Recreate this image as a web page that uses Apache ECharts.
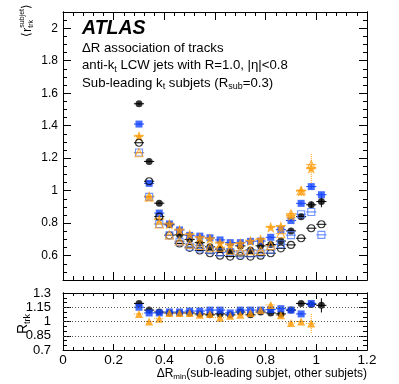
<!DOCTYPE html>
<html>
<head>
<meta charset="utf-8">
<script src="https://cdn.jsdelivr.net/npm/echarts@6/dist/echarts.min.js"></script>
<style>
  html, body { margin: 0; padding: 0; background: #fff; }
  #chart { width: 399px; height: 384px; }
</style>
</head>
<body>
<div id="chart"></div>
<script>
// bin centres of dR_min
const xBins = [0.30, 0.34, 0.38, 0.42, 0.46, 0.50, 0.54, 0.58, 0.62, 0.66, 0.70, 0.74, 0.78, 0.82, 0.86, 0.90, 0.94, 0.98, 1.02]

// <r_trk^subjet> (filled) and track-only version (open)
const dataFilled = [1.535, 1.18, 0.923, 0.79, 0.728, 0.70, 0.68, 0.655, 0.64, 0.628, 0.66, 0.635, 0.66, 0.668, 0.69, 0.752, 0.84, 0.913, 0.933]
const dataOpen = [1.295, 1.058, 0.84, 0.725, 0.675, 0.648, 0.632, 0.615, 0.60, 0.594, 0.598, 0.594, 0.60, 0.615, 0.645, 0.666, 0.707, 0.769, 0.793]
const blueFilled = [1.41, 1.045, 0.862, 0.795, 0.758, 0.725, 0.72, 0.71, 0.697, 0.68, 0.68, 0.688, 0.69, 0.713, 0.76, 0.816, 0.922, 1.025, 0.975]
const blueOpen = [1.235, 0.962, 0.795, 0.725, 0.685, 0.655, 0.645, 0.633, 0.62, 0.622, 0.607, 0.615, 0.615, 0.636, 0.67, 0.726, 0.855, 0.869, 0.728]
const orangeFilled = [1.335, 0.962, 0.822, 0.795, 0.758, 0.73, 0.712, 0.705, 0.678, 0.668, 0.675, 0.69, 0.70, 0.775, 0.78, 0.845, 0.998, 1.138, null]
const orangeOpen = [1.233, 0.962, 0.795, 0.728, 0.69, 0.67, 0.662, 0.652, 0.652, 0.633, 0.63, 0.63, 0.63, 0.662, 0.735, 0.858, 1.0, 1.16, null]

// vertical errors
const dataErr = [0.006, 0.005, 0.004, 0.004, 0.004, 0.004, 0.004, 0.004, 0.004, 0.004, 0.004, 0.005, 0.005, 0.006, 0.007, 0.008, 0.012, 0.02, 0.035]
const blueErr = [0.005, 0.004, 0.004, 0.003, 0.003, 0.003, 0.003, 0.003, 0.003, 0.003, 0.003, 0.004, 0.004, 0.005, 0.006, 0.008, 0.01, 0.015, 0.015]
const orangeErr = [0.01, 0.006, 0.006, 0.005, 0.005, 0.005, 0.005, 0.005, 0.005, 0.005, 0.006, 0.007, 0.008, 0.01, 0.012, 0.02, 0.03, 0.09, null]

// R_trk ratio panel
const ratioData = [1.19, 1.12, 1.10, 1.09, 1.09, 1.09, 1.08, 1.07, 1.08, 1.07, 1.10, 1.07, 1.10, 1.09, 1.08, 1.12, 1.19, 1.18, 1.17]
const ratioBlue = [1.15, 1.09, 1.09, 1.10, 1.10, 1.11, 1.11, 1.12, 1.12, 1.09, 1.12, 1.12, 1.12, 1.125, 1.135, 1.12, 1.08, 1.19, null]
const ratioOrange = [1.08, 1.00, 1.03, 1.09, 1.09, 1.09, 1.07, 1.08, 1.04, 1.06, 1.07, 1.09, 1.12, 1.175, 1.065, 0.985, 1.0, 0.98, null]
const ratioDataErr = [0.01, 0.008, 0.006, 0.006, 0.006, 0.006, 0.006, 0.006, 0.006, 0.006, 0.006, 0.007, 0.008, 0.008, 0.01, 0.012, 0.012, 0.02, 0.075]
const ratioBlueErr = [0.006, 0.005, 0.005, 0.005, 0.005, 0.005, 0.005, 0.005, 0.005, 0.005, 0.005, 0.005, 0.006, 0.006, 0.008, 0.01, 0.012, 0.015, null]
const ratioOrangeErr = [0.01, 0.01, 0.01, 0.01, 0.01, 0.01, 0.01, 0.01, 0.01, 0.01, 0.01, 0.012, 0.014, 0.016, 0.018, 0.02, 0.03, 0.1, null]

const BIN_HALF = 0.02

// axes
const xMin = 0, xMax = 1.2, xStep = 0.2
const mainYMin = 0.45, mainYMax = 2.1
const mainYMajor = [0.6, 0.8, 1, 1.2, 1.4, 1.6, 1.8, 2]
const mainYMinor = [0.45, 0.5, 0.55, 0.65, 0.7, 0.75, 0.85, 0.9, 0.95, 1.05, 1.1, 1.15, 1.25, 1.3, 1.35, 1.45, 1.5, 1.55, 1.65, 1.7, 1.75, 1.85, 1.9, 1.95, 2.05, 2.1]
const ratioYMin = 0.7, ratioYMax = 1.3
const ratioYMajor = [0.7, 0.85, 1, 1.15, 1.3]
const ratioYMinor = [0.75, 0.8, 0.9, 0.95, 1.05, 1.1, 1.2, 1.25]
const ratioGuides = [0.85, 1, 1.15]

const FONT = '"Liberation Sans", Arial, Helvetica, sans-serif'
const BLACK = '#000000'
const BLUE = '#1446ff'
const BLUE_OPEN = '#4f7bff'
const ORANGE = '#ff9a00'
const ORANGE_OPEN = '#ffa31f'
const STAR = 'path://M0,-10L2.35,-3.24L9.51,-3.09L3.8,1.24L5.88,8.09L0,4L-5.88,8.09L-3.8,1.24L-9.51,-3.09L-2.35,-3.24Z'

// text with sub/superscripts built from measured pieces
const measureCtx = document.createElement('canvas').getContext('2d')
function measure(seg) {
  measureCtx.font = `${seg.style || 'normal'} ${seg.weight || 'normal'} ${seg.size}px ${FONT}`
  return measureCtx.measureText(seg.t).width
}
function textRun(x, y, segs, opts = {}) {
  let pos = 0
  let prevStart = 0
  const placed = segs.map(s => {
    const w = measure(s)
    let start
    if (s.stack) {
      start = prevStart
      pos = Math.max(pos, start + w)
    } else {
      start = pos
      pos += w
    }
    prevStart = start
    return { s, start }
  })
  const shift = opts.align === 'right' ? -pos : 0
  return {
    type: 'group',
    x: x,
    y: y,
    rotation: opts.rotation || 0,
    silent: true,
    children: placed.map(({ s, start }) => ({
      type: 'text',
      x: start + shift,
      y: s.dy || 0,
      style: {
        text: s.t,
        fontSize: s.size,
        fontFamily: FONT,
        fontWeight: s.weight || 'normal',
        fontStyle: s.style || 'normal',
        fill: '#000',
        align: 'left',
        verticalAlign: 'middle'
      }
    }))
  }
}

function pairs(vals, errs) {
  const out = []
  xBins.forEach((x, i) => {
    if (vals[i] != null) out.push([x, vals[i], errs ? (errs[i] || 0) : 0])
  })
  return out
}

function errorSeries(vals, errs, color, xi, yi, dashed) {
  return {
    type: 'custom',
    xAxisIndex: xi,
    yAxisIndex: yi,
    silent: true,
    clip: false,
    data: pairs(vals, errs),
    renderItem: function (params, api) {
      const x = api.value(0)
      const y = api.value(1)
      const e = api.value(2)
      const a = api.coord([x - BIN_HALF, y])
      const b = api.coord([x + BIN_HALF, y])
      const style = { stroke: color, lineWidth: 1, lineDash: dashed ? [1, 1] : null }
      const children = [{ type: 'line', shape: { x1: a[0], y1: a[1], x2: b[0], y2: b[1] }, style: style }]
      if (e > 0) {
        const lo = api.coord([x, y - e])
        const hi = api.coord([x, y + e])
        children.push({ type: 'line', shape: { x1: lo[0], y1: lo[1], x2: hi[0], y2: hi[1] }, style: style })
      }
      return { type: 'group', children: children }
    }
  }
}

function markerSeries(vals, symbol, size, color, open, xi, yi) {
  return {
    type: 'scatter',
    xAxisIndex: xi,
    yAxisIndex: yi,
    symbol: symbol,
    symbolSize: size,
    silent: true,
    data: pairs(vals).map(d => [d[0], d[1]]),
    itemStyle: open
      ? { color: 'rgba(0,0,0,0)', borderColor: color, borderWidth: 1.1 }
      : { color: color, borderWidth: 0 }
  }
}

function xAxisDef(grid, position, showLabels, major, minor) {
  return {
    type: 'value',
    gridIndex: grid,
    position: position,
    min: xMin,
    max: xMax,
    interval: xStep,
    axisLine: { show: true, onZero: false, lineStyle: { color: '#000', width: 1 } },
    axisTick: { show: true, inside: true, length: major, lineStyle: { color: '#000' } },
    minorTick: { show: true, splitNumber: 5, length: minor, lineStyle: { color: '#000' } },
    axisLabel: {
      show: showLabels,
      margin: 3,
      color: '#000',
      fontSize: 13.5,
      fontFamily: FONT,
      formatter: v => String(Math.round(v * 10) / 10)
    },
    splitLine: { show: false },
    minorSplitLine: { show: false }
  }
}

function yAxisDef(grid, position, min, max, ticks, len, labels, labelSize, labelMargin) {
  return {
    type: 'value',
    gridIndex: grid,
    position: position,
    min: min,
    max: max,
    axisLine: { show: true, onZero: false, lineStyle: { color: '#000', width: 1 } },
    axisTick: { show: true, inside: true, length: len, customValues: ticks, lineStyle: { color: '#000' } },
    axisLabel: labels
      ? { show: true, customValues: ticks, margin: labelMargin, color: '#000', fontSize: labelSize, fontFamily: FONT }
      : { show: false },
    splitLine: { show: false }
  }
}

const chart = echarts.init(document.getElementById('chart'))

const series = [
  // main panel
  errorSeries(dataFilled, dataErr, BLACK, 0, 0),
  markerSeries(dataFilled, 'circle', 7, BLACK, false, 0, 0),
  errorSeries(blueFilled, blueErr, BLUE, 0, 0),
  markerSeries(blueFilled, 'rect', 7, BLUE, false, 0, 0),
  errorSeries(orangeFilled, orangeErr, ORANGE, 0, 0, true),
  markerSeries(orangeFilled, STAR, 11, ORANGE, false, 0, 0),
  errorSeries(dataOpen, null, BLACK, 0, 0),
  markerSeries(dataOpen, 'circle', 7, BLACK, true, 0, 0),
  errorSeries(blueOpen, null, BLUE_OPEN, 0, 0),
  markerSeries(blueOpen, 'rect', 7, BLUE_OPEN, true, 0, 0),
  errorSeries(orangeOpen, null, ORANGE_OPEN, 0, 0),
  markerSeries(orangeOpen, 'triangle', 8, ORANGE_OPEN, true, 0, 0),
  // ratio panel
  errorSeries(ratioData, ratioDataErr, BLACK, 2, 4),
  Object.assign(markerSeries(ratioData, 'circle', 7, BLACK, false, 2, 4), {
    markLine: {
      silent: true,
      symbol: 'none',
      label: { show: false },
      lineStyle: { color: '#555', type: [1, 2], width: 1 },
      data: ratioGuides.map(v => ({ yAxis: v }))
    }
  }),
  errorSeries(ratioBlue, ratioBlueErr, BLUE, 2, 4),
  markerSeries(ratioBlue, 'rect', 7, BLUE, false, 2, 4),
  errorSeries(ratioOrange, ratioOrangeErr, ORANGE, 2, 4, true),
  markerSeries(ratioOrange, 'triangle', 8, ORANGE, false, 2, 4)
]

chart.setOption({
  animation: false,
  backgroundColor: '#fff',
  grid: [
    { left: 63, top: 12, width: 304, height: 268 },
    { left: 63, top: 293, width: 304, height: 57 }
  ],
  xAxis: [
    xAxisDef(0, 'bottom', false, 8, 4),
    xAxisDef(0, 'top', false, 8, 4),
    xAxisDef(1, 'bottom', true, 6, 3),
    xAxisDef(1, 'top', false, 6, 3)
  ],
  yAxis: [
    yAxisDef(0, 'left', mainYMin, mainYMax, mainYMajor, 8, true, 12, 5),
    yAxisDef(0, 'left', mainYMin, mainYMax, mainYMinor, 4, false),
    yAxisDef(0, 'right', mainYMin, mainYMax, mainYMajor, 8, false),
    yAxisDef(0, 'right', mainYMin, mainYMax, mainYMinor, 4, false),
    yAxisDef(1, 'left', ratioYMin, ratioYMax, ratioYMajor, 8, true, 13, 12),
    yAxisDef(1, 'left', ratioYMin, ratioYMax, ratioYMinor, 4, false),
    yAxisDef(1, 'right', ratioYMin, ratioYMax, ratioYMajor, 8, false),
    yAxisDef(1, 'right', ratioYMin, ratioYMax, ratioYMinor, 4, false)
  ],
  graphic: [
    textRun(82, 29, [{ t: 'ATLAS', size: 19.5, weight: 'bold', style: 'italic' }]),
    textRun(82, 48, [{ t: 'ΔR association of tracks', size: 13.2 }]),
    textRun(82, 65.5, [
      { t: 'anti-k', size: 13.2 },
      { t: 't', size: 9, dy: 4 },
      { t: ' LCW jets with R=1.0, |η|<0.8', size: 13.2 }
    ]),
    textRun(82, 83, [
      { t: 'Sub-leading k', size: 13.2 },
      { t: 't', size: 9, dy: 4 },
      { t: ' subjets (R', size: 13.2 },
      { t: 'sub', size: 9, dy: 4 },
      { t: '=0.3)', size: 13.2 }
    ]),
    // y title main panel, reading upwards
    textRun(27, 37, [
      { t: '⟨', size: 12 },
      { t: 'r', size: 13 },
      { t: 'subjet', size: 7, dy: -5 },
      { t: 'trk', size: 7, dy: 4, stack: true },
      { t: '⟩', size: 12 }
    ], { rotation: Math.PI / 2 }),
    // y title ratio panel
    textRun(23, 334, [
      { t: 'R', size: 14 },
      { t: 'trk', size: 9, dy: 5 }
    ], { rotation: Math.PI / 2 }),
    // x title
    textRun(367, 374, [
      { t: 'ΔR', size: 12 },
      { t: 'min', size: 8, dy: 3 },
      { t: '(sub-leading subjet, other subjets)', size: 12 }
    ], { align: 'right' })
  ],
  series: series
})
</script>
</body>
</html>
